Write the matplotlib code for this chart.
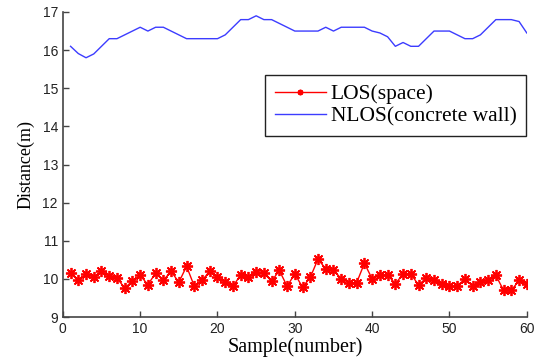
import matplotlib
matplotlib.use("Agg")
import matplotlib.pyplot as plt

samples = list(range(1, 61))
los = [10.15, 9.96, 10.12, 10.05, 10.2, 10.07, 10.02, 9.76, 9.94, 10.09,
       9.85, 10.15, 9.96, 10.2, 9.91, 10.33, 9.81, 9.96, 10.2, 10.04,
       9.91, 9.81, 10.1, 10.06, 10.17, 10.16, 9.94, 10.22, 9.81, 10.13,
       9.78, 10.04, 10.52, 10.26, 10.24, 10.0, 9.9, 9.9, 10.41, 10.0,
       10.09, 10.11, 9.87, 10.13, 10.13, 9.84, 10.02, 9.97, 9.86, 9.81,
       9.81, 10.0, 9.81, 9.91, 9.98, 10.09, 9.7, 9.7, 9.96, 9.87]
nlos = [16.1, 15.91, 15.8, 15.9, 16.1, 16.3, 16.3, 16.4, 16.5, 16.6,
        16.5, 16.6, 16.6, 16.5, 16.4, 16.3, 16.3, 16.3, 16.3, 16.3,
        16.4, 16.6, 16.8, 16.8, 16.9, 16.8, 16.8, 16.7, 16.6, 16.5,
        16.5, 16.5, 16.5, 16.6, 16.5, 16.6, 16.6, 16.6, 16.6, 16.5,
        16.45, 16.35, 16.1, 16.2, 16.1, 16.1, 16.3, 16.5, 16.5, 16.5,
        16.4, 16.3, 16.3, 16.4, 16.6, 16.8, 16.8, 16.8, 16.75, 16.45]

fig = plt.figure(figsize=(5.37, 3.58), dpi=100)
ax = fig.add_axes([0.117, 0.1145, 0.864, 0.852])

ax.plot(samples, los, color='#ff0000', marker=(8, 2, 0), markersize=8,
        markeredgewidth=1.3, linewidth=1.0, label='LOS(space)')
ax.plot(samples, nlos, color='#3c3cff', linewidth=1.0, label='NLOS(concrete wall)')

ax.set_xlim(0, 60)
ax.set_ylim(9, 17)
ax.set_xticks(range(0, 61, 10))
ax.set_yticks(range(9, 18))

for s in ['top', 'right']:
    ax.spines[s].set_visible(False)
for s in ['left', 'bottom']:
    ax.spines[s].set_color('#444444')
    ax.spines[s].set_linewidth(1.2)

ax.tick_params(direction='in', length=4, width=1, colors='#444444',
               labelcolor='#222222', labelsize=10)
for lbl in ax.get_xticklabels() + ax.get_yticklabels():
    lbl.set_family('Liberation Sans')

ax.set_xlabel('Sample(number)', family='Liberation Serif', fontsize=14.5, labelpad=1)
ax.set_ylabel('Distance(m)', family='Liberation Serif', fontsize=13, labelpad=6)

leg = ax.legend(loc='upper right', bbox_to_anchor=(0.9985, 0.795),
                prop={'family': 'Liberation Serif', 'size': 15.5},
                fancybox=False, edgecolor='#222222', framealpha=1,
                handlelength=2.4, borderpad=0.45, labelspacing=0.1,
                handletextpad=0.2, borderaxespad=0, markerscale=0.5)
leg.get_frame().set_linewidth(1.0)

fig.savefig('out.png', dpi=100)
